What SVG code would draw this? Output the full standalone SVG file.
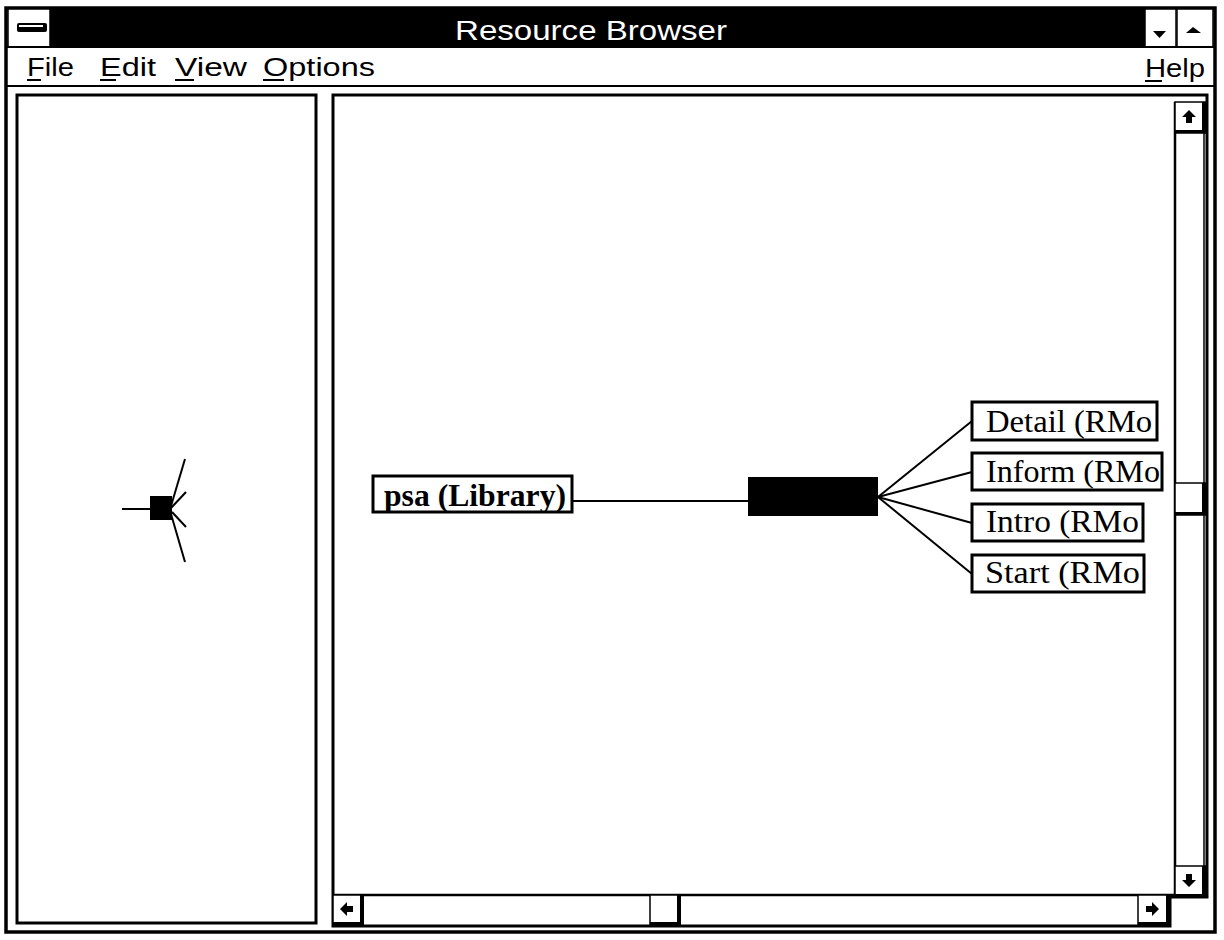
<svg xmlns="http://www.w3.org/2000/svg" width="1224" height="940" viewBox="0 0 1224 940">
<style>
.frame{fill:none;stroke:#000;stroke-width:3}
.box{fill:#fff;stroke:#000;stroke-width:3}
.menu{font-family:"Liberation Sans",Arial,sans-serif;font-size:26px;fill:#000}
.title{font-family:"Liberation Sans",Arial,sans-serif;font-size:27px;fill:#fff}
.lbl{font-family:"Liberation Serif","Times New Roman",serif;font-size:31px;fill:#000}
.edge{stroke:#000;stroke-width:2;fill:none}
.ul{stroke:#000;stroke-width:2}
.btn{fill:#fff;stroke:#000;stroke-width:1.5}
.sh{fill:#000}
</style>
<defs>
<polygon id="arrowUp" points="0,-7 7,0 3,0 3,6 -3,6 -3,0 -7,0" fill="#000"/>
</defs>
<rect x="0" y="0" width="1224" height="940" fill="#fff"/>

<g id="window">
<rect x="6" y="8" width="1209" height="924" fill="#fff" stroke="#000" stroke-width="3.5"/>
<rect x="50" y="9" width="1095" height="38" fill="#000"/>
<rect x="8" y="9" width="42" height="38" fill="#fff" stroke="#000" stroke-width="1.5"/>
<rect x="17" y="23" width="30" height="9" fill="#000" rx="2"/>
<rect x="19" y="25" width="24" height="2" fill="#fff"/>
<rect x="1145" y="9" width="31" height="38" fill="#fff" stroke="#000" stroke-width="1.5"/>
<polygon points="1153,31 1166,31 1159.5,38" fill="#000"/>
<rect x="1177" y="9" width="36" height="38" fill="#fff" stroke="#000" stroke-width="1.5"/>
<polygon points="1186,33 1201,33 1193,27" fill="#000"/>
<text class="title" x="591" y="40" text-anchor="middle" textLength="272" lengthAdjust="spacingAndGlyphs">Resource Browser</text>
<line x1="6" y1="47" x2="1215" y2="47" stroke="#000" stroke-width="2"/>
</g>

<g id="menubar">
<text class="menu" x="27" y="76" textLength="47" lengthAdjust="spacingAndGlyphs">File</text>
<line class="ul" x1="27" y1="80" x2="41" y2="80"/>
<text class="menu" x="100" y="76" textLength="56" lengthAdjust="spacingAndGlyphs">Edit</text>
<line class="ul" x1="100" y1="80" x2="116" y2="80"/>
<text class="menu" x="175" y="76" textLength="72" lengthAdjust="spacingAndGlyphs">View</text>
<line class="ul" x1="175" y1="80" x2="194" y2="80"/>
<text class="menu" x="263" y="76" textLength="112" lengthAdjust="spacingAndGlyphs">Options</text>
<line class="ul" x1="263" y1="80" x2="284" y2="80"/>
<text class="menu" x="1145" y="77" textLength="60" lengthAdjust="spacingAndGlyphs">Help</text>
<line class="ul" x1="1145" y1="81" x2="1162" y2="81"/>
<line x1="6" y1="86" x2="1215" y2="86" stroke="#000" stroke-width="2"/>
</g>

<g id="overview-panel">
<rect x="17" y="95" width="299" height="828" fill="#fff" stroke="#000" stroke-width="3"/>
<g class="edge">
<line x1="122" y1="509" x2="150" y2="509"/>
<line x1="171" y1="506" x2="185" y2="459"/>
<line x1="171" y1="508" x2="186" y2="492"/>
<line x1="172" y1="512" x2="186" y2="527"/>
<line x1="171" y1="514" x2="185" y2="562"/>
</g>
<rect x="150" y="496" width="22" height="24" fill="#000"/>
</g>

<g id="main-panel">
<path d="M333,926 V95 H1207 V897 H1170 V926 Z" fill="#fff" stroke="#000" stroke-width="3"/>
<line x1="333" y1="895" x2="1175" y2="895" stroke="#000" stroke-width="2.5"/>
<line x1="1175" y1="102" x2="1175" y2="897" stroke="#000" stroke-width="2.5"/>
<line x1="1204" y1="102" x2="1204" y2="897" stroke="#000" stroke-width="1.5"/>
</g>

<g id="scrollbars">
<rect class="btn" x="1175" y="102" width="31" height="31"/>
<rect class="sh" x="1202" y="102" width="4" height="31"/>
<rect class="sh" x="1175" y="130" width="31" height="3"/>
<use href="#arrowUp" x="1189" y="117"/>

<rect class="btn" x="1175" y="866" width="31" height="31"/>
<rect class="sh" x="1202" y="866" width="4" height="31"/>
<rect class="sh" x="1175" y="894" width="31" height="3"/>
<use href="#arrowUp" transform="translate(1189,880) rotate(180)"/>

<rect class="btn" x="1175" y="483" width="31" height="32"/>
<rect class="sh" x="1202" y="483" width="4" height="32"/>
<rect class="sh" x="1175" y="512" width="31" height="3"/>

<rect class="btn" x="333" y="895" width="30" height="31"/>
<rect class="sh" x="360" y="895" width="4" height="31"/>
<rect class="sh" x="333" y="922" width="30" height="4"/>
<use href="#arrowUp" transform="translate(347,909) rotate(-90)"/>

<rect class="btn" x="650" y="895" width="30" height="31"/>
<rect class="sh" x="677" y="895" width="4" height="31"/>
<rect class="sh" x="650" y="922" width="30" height="4"/>

<rect class="btn" x="1138" y="895" width="32" height="31"/>
<rect class="sh" x="1166" y="895" width="4" height="31"/>
<rect class="sh" x="1138" y="922" width="32" height="4"/>
<use href="#arrowUp" transform="translate(1152,909) rotate(90)"/>
</g>

<g id="connectors" class="edge">
<line x1="572" y1="501" x2="748" y2="501"/>
<line x1="878" y1="497" x2="972" y2="421"/>
<line x1="878" y1="497" x2="972" y2="472"/>
<line x1="878" y1="497" x2="972" y2="523"/>
<line x1="878" y1="497" x2="972" y2="574"/>
</g>

<g id="node-psa">
<rect class="box" x="373" y="476" width="199" height="36"/>
<text class="lbl" x="384" y="506" font-weight="bold" font-size="30" textLength="182" lengthAdjust="spacingAndGlyphs">psa (Library)</text>
</g>

<g id="node-hub">
<rect x="748" y="477" width="130" height="39" fill="#000"/>
</g>

<g id="node-detail">
<rect class="box" x="972" y="402" width="185" height="38"/>
<text class="lbl" x="986" y="432" textLength="166" lengthAdjust="spacingAndGlyphs">Detail (RMo</text>
</g>

<g id="node-inform">
<rect class="box" x="972" y="453" width="190" height="37"/>
<text class="lbl" x="986" y="482" textLength="174" lengthAdjust="spacingAndGlyphs">Inform (RMo</text>
</g>

<g id="node-intro">
<rect class="box" x="972" y="504" width="171" height="37"/>
<text class="lbl" x="986" y="532" textLength="153" lengthAdjust="spacingAndGlyphs">Intro (RMo</text>
</g>

<g id="node-start">
<rect class="box" x="972" y="555" width="172" height="37"/>
<text class="lbl" x="985" y="583" textLength="155" lengthAdjust="spacingAndGlyphs">Start (RMo</text>
</g>
</svg>
